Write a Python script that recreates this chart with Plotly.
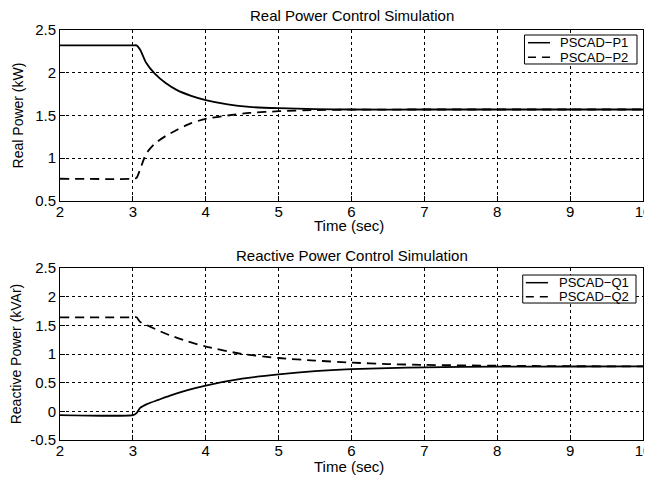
import plotly.graph_objects as go

# Top plot: real power
t_p = [2.0, 3.0, 3.05, 3.1, 3.18, 3.3, 3.45, 3.6, 3.8, 4.0, 4.3, 4.6, 5.0, 5.5, 6.0, 7.0, 8.0, 9.0, 10.0]
p1 = [2.32, 2.32, 2.32, 2.27, 2.12, 1.99, 1.88, 1.80, 1.73, 1.68, 1.63, 1.60, 1.585, 1.575, 1.57, 1.57, 1.57, 1.57, 1.57]
p2 = [0.76, 0.76, 0.77, 0.87, 1.05, 1.17, 1.26, 1.33, 1.41, 1.46, 1.50, 1.53, 1.55, 1.563, 1.568, 1.57, 1.57, 1.57, 1.57]

# Bottom plot: reactive power
t_q = [2.0, 3.0, 3.05, 3.1, 3.2, 3.35, 3.5, 3.75, 4.0, 4.5, 5.0, 5.5, 6.0, 6.5, 7.0, 8.0, 9.0, 10.0]
q1 = [-0.065, -0.065, -0.03, 0.06, 0.13, 0.2, 0.27, 0.37, 0.45, 0.57, 0.645, 0.7, 0.735, 0.755, 0.768, 0.78, 0.782, 0.783]
q2 = [1.64, 1.64, 1.64, 1.56, 1.5, 1.41, 1.33, 1.22, 1.13, 1.0, 0.93, 0.885, 0.85, 0.825, 0.81, 0.795, 0.787, 0.785]

x_ticks = [2, 3, 4, 5, 6, 7, 8, 9, 10]
y_ticks_p = [0.5, 1, 1.5, 2, 2.5]
y_ticks_q = [-0.5, 0, 0.5, 1, 1.5, 2, 2.5]
names_p = ["PSCAD\u2212P1", "PSCAD\u2212P2"]
names_q = ["PSCAD\u2212Q1", "PSCAD\u2212Q2"]

FONT = "Liberation Sans, Arial, sans-serif"
LINE = dict(color="black", width=1.8, shape="spline", smoothing=0.6)
DASH = dict(LINE, dash="9px,6px")

fig = go.Figure()
fig.add_trace(go.Scatter(x=t_p, y=p1, mode="lines", name=names_p[0], line=LINE, xaxis="x", yaxis="y"))
fig.add_trace(go.Scatter(x=t_p, y=p2, mode="lines", name=names_p[1], line=DASH, xaxis="x", yaxis="y"))
fig.add_trace(go.Scatter(x=t_q, y=q1, mode="lines", name=names_q[0], line=LINE, xaxis="x2", yaxis="y2"))
fig.add_trace(go.Scatter(x=t_q, y=q2, mode="lines", name=names_q[1], line=DASH, xaxis="x2", yaxis="y2"))

axis_common = dict(
    showline=True, linecolor="black", linewidth=1, mirror=True,
    showgrid=True, gridcolor="black", griddash="dot", gridwidth=1,
    ticks="inside", ticklen=5, tickcolor="black", zeroline=False, automargin=False,
    tickfont=dict(family=FONT, size=15, color="black"), ticklabeloverflow="allow",
)

shapes = []
annotations = [
    dict(text="Real Power Control Simulation", x=0.5, y=1, xref="paper", yref="paper",
         xanchor="center", yanchor="middle", yshift=15, showarrow=False, font=dict(size=15, family=FONT)),
    dict(text="Reactive Power Control Simulation", x=0.5, y=0.4195, xref="paper", yref="paper",
         xanchor="center", yanchor="middle", yshift=13, showarrow=False, font=dict(size=15, family=FONT)),
    dict(text="Time (sec)", x=0.495, y=0.583, xref="paper", yref="paper",
         xanchor="center", yanchor="middle", yshift=-25, showarrow=False, font=dict(size=15, family=FONT)),
    dict(text="Time (sec)", x=0.495, y=0.0, xref="paper", yref="paper",
         xanchor="center", yanchor="middle", yshift=-26, showarrow=False, font=dict(size=15, family=FONT)),
]


def add_legend(box, rows, sample_x, text_x, names):
    x0, x1, y0, y1 = box
    shapes.append(dict(type="rect", xref="paper", yref="paper", x0=x0, x1=x1, y0=y0, y1=y1,
                       line=dict(color="black", width=1), fillcolor="white", layer="above"))
    for i, (ry, nm) in enumerate(zip(rows, names)):
        shapes.append(dict(type="line", xref="paper", yref="paper", x0=sample_x[0], x1=sample_x[1], y0=ry, y1=ry,
                           line=dict(color="black", width=1.5, dash="solid" if i == 0 else "8px,6px"), layer="above"))
        annotations.append(dict(text=nm, x=text_x, y=ry, xref="paper", yref="paper", xanchor="left",
                                yanchor="middle", showarrow=False, font=dict(size=13, family=FONT)))


add_legend((0.7967, 0.9897, 0.9171, 0.9878), (0.9690, 0.9334), (0.8027, 0.8405), 0.855, names_p)
add_legend((0.7937, 0.9880, 0.3341, 0.4024), (0.3837, 0.3495), (0.7990, 0.8370), 0.852, names_q)

fig.update_layout(
    width=644, height=469,
    margin=dict(l=52, r=9, t=22, b=37, autoexpand=False),
    paper_bgcolor="white", plot_bgcolor="white",
    font=dict(family=FONT, color="black"),
    showlegend=False,
    xaxis=dict(domain=[0, 1], range=[2, 10], tickvals=x_ticks, anchor="y", ticklabelstandoff=-3, **axis_common),
    yaxis=dict(domain=[0.583, 1], range=[0.5, 2.5], tickvals=y_ticks_p, ticktext=["0.5", "1", "1.5", "2", "2.5"], anchor="x",
               title=dict(text="Real Power (kW)", font=dict(size=14), standoff=8), **axis_common),
    xaxis2=dict(domain=[0, 1], range=[2, 10], tickvals=x_ticks, anchor="y2", ticklabelstandoff=-3, **axis_common),
    yaxis2=dict(domain=[0, 0.4195], range=[-0.5, 2.5], tickvals=y_ticks_q, ticktext=["-0.5", "0", "0.5", "1", "1.5", "2", "2.5"], anchor="x2",
                title=dict(text="Reactive Power (kVAr)", font=dict(size=14), standoff=8), **axis_common),
    shapes=shapes,
    annotations=annotations,
)

fig.write_html("out.html")
